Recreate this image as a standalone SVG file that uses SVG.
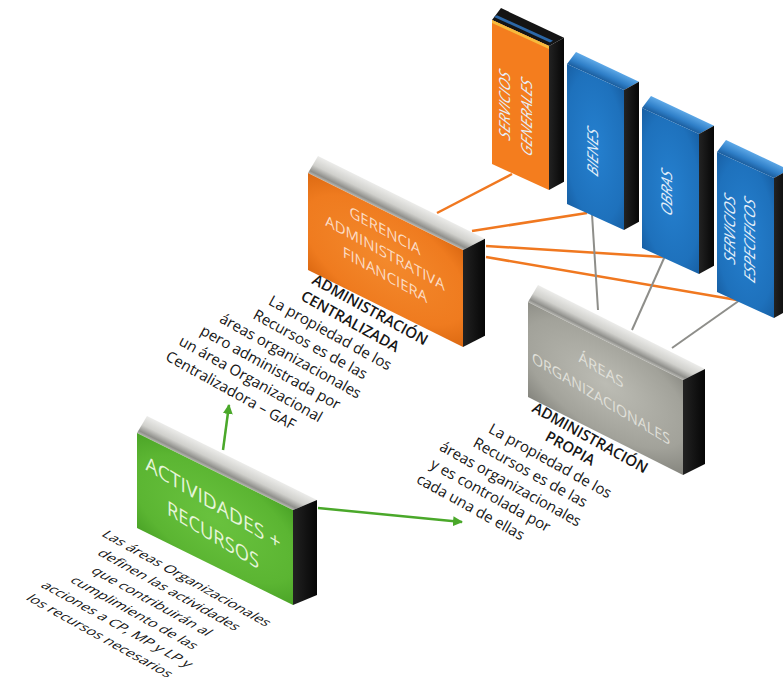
<svg xmlns="http://www.w3.org/2000/svg" width="783" height="681" viewBox="0 0 783 681">
<defs>
<style>
.lbl{font-family:"Open Sans","Liberation Sans",sans-serif;font-size:15px;fill:#161616;text-anchor:middle;font-weight:500}
.b{font-weight:600}
.bt{font-family:"Open Sans","Liberation Sans",sans-serif;text-anchor:middle}
.blt{font-size:15px;font-style:italic;fill:#e6f0fa}
.ol{stroke:#f07820;stroke-width:2.5;fill:none}
.gl{stroke:#8e8e8a;stroke-width:2;fill:none}
.ga{stroke:#4aa82a;stroke-width:2.5;fill:none;marker-end:url(#gah)}
</style>
<linearGradient id="topG" gradientUnits="userSpaceOnUse" x1="0" y1="-22" x2="0" y2="0">
<stop offset="0" stop-color="#ececea"/><stop offset="0.5" stop-color="#d0d0cc"/><stop offset="0.85" stop-color="#8f8f8b"/><stop offset="1" stop-color="#b8b8b3"/>
</linearGradient>
<linearGradient id="blueTop" gradientUnits="userSpaceOnUse" x1="0" y1="-16" x2="0" y2="0">
<stop offset="0" stop-color="#5ea9e8"/><stop offset="0.6" stop-color="#2f7fc8"/><stop offset="1" stop-color="#1b5d9d"/>
</linearGradient>
<linearGradient id="sideG" x1="0" y1="0" x2="1" y2="0">
<stop offset="0" stop-color="#222"/><stop offset="1" stop-color="#060606"/>
</linearGradient>
<radialGradient id="orF" cx="0.5" cy="0.5" r="0.75">
<stop offset="0" stop-color="#f3892c"/><stop offset="0.7" stop-color="#ef7b1f"/><stop offset="1" stop-color="#d8650f"/>
</radialGradient>
<radialGradient id="grF" cx="0.5" cy="0.5" r="0.75">
<stop offset="0" stop-color="#69c23e"/><stop offset="0.7" stop-color="#5bb532"/><stop offset="1" stop-color="#47a024"/>
</radialGradient>
<radialGradient id="gyF" cx="0.5" cy="0.45" r="0.75">
<stop offset="0" stop-color="#bcbcb4"/><stop offset="0.7" stop-color="#a2a29a"/><stop offset="1" stop-color="#84847d"/>
</radialGradient>
<radialGradient id="blF" cx="0.5" cy="0.5" r="0.75">
<stop offset="0" stop-color="#2580cf"/><stop offset="0.7" stop-color="#1e71bc"/><stop offset="1" stop-color="#165b9e"/>
</radialGradient>
<marker id="gah" viewBox="0 0 10 10" refX="9" refY="5" markerWidth="4" markerHeight="4" orient="auto" markerUnits="strokeWidth">
<path d="M0,0 L10,5 L0,10 z" fill="#4aa82a"/>
</marker>
</defs>
<rect width="783" height="681" fill="#ffffff"/>

<g id="connectors">
<line class="ol" x1="437" y1="213" x2="512" y2="174"/>
<line class="ol" x1="472" y1="231" x2="587" y2="213"/>
<line class="ol" x1="486" y1="246" x2="663" y2="257"/>
<line class="ol" x1="486" y1="257" x2="737" y2="300"/>
<line class="gl" x1="592" y1="214" x2="598" y2="310"/>
<line class="gl" x1="665" y1="256" x2="632" y2="330"/>
<line class="gl" x1="740" y1="300" x2="672" y2="348"/>
<line class="ga" x1="223" y1="450" x2="229" y2="405"/>
<line class="ga" x1="318" y1="508" x2="462" y2="522"/>
</g>

<g id="servicios-generales">
<g transform="translate(492,20) skewY(24.5)">
<polygon points="0,0 57,0 72,-15 9,-16" fill="#141414"/>
<polygon points="2,-4 58,-4 61,-7 5,-7" fill="#2c68a8"/>
<polygon points="57,0 72,-15 72,129 57,144" fill="url(#sideG)"/>
<rect width="57" height="144" fill="#f47d1e"/>
<rect width="57" height="3" fill="#f6bb3c"/>
</g>
<g transform="translate(516,111) skewY(28.8)">
<text class="bt blt" transform="rotate(-90)" x="0" y="-6">SERVICIOS</text>
<text class="bt blt" transform="rotate(-90)" x="0" y="16">GENERALES</text>
</g>
</g>

<g id="bienes">
<g transform="translate(567,64) skewY(24.5)">
<polygon points="0,0 57,0 72,-15 9,-16" fill="url(#blueTop)"/>
<polygon points="57,0 72,-15 72,125 57,140" fill="url(#sideG)"/>
<rect width="57" height="140" fill="url(#blF)"/>
</g>
<g transform="translate(594,152) skewY(28.8)">
<text class="bt blt" transform="rotate(-90)" x="0" y="4">BIENES</text>
</g>
</g>

<g id="obras">
<g transform="translate(642,108) skewY(24.5)">
<polygon points="0,0 57,0 72,-15 9,-16" fill="url(#blueTop)"/>
<polygon points="57,0 72,-15 72,125 57,140" fill="url(#sideG)"/>
<rect width="57" height="140" fill="url(#blF)"/>
</g>
<g transform="translate(668,193) skewY(28.8)">
<text class="bt blt" transform="rotate(-90)" x="0" y="4">OBRAS</text>
</g>
</g>

<g id="servicios-especificos">
<g transform="translate(717,152) skewY(24.5)">
<polygon points="0,0 57,0 72,-15 9,-16" fill="url(#blueTop)"/>
<polygon points="57,0 72,-15 72,125 57,140" fill="url(#sideG)"/>
<rect width="57" height="140" fill="url(#blF)"/>
</g>
<g transform="translate(741,235) skewY(28.8)">
<text class="bt blt" transform="rotate(-90)" x="0" y="-6">SERVICIOS</text>
<text class="bt blt" transform="rotate(-90)" x="0" y="14">ESPECIFICOS</text>
</g>
</g>

<g id="gerencia">
<g transform="translate(308,173) skewY(26.4)">
<polygon points="0,0 155,0 177,-22 10,-22" fill="url(#topG)"/>
<polygon points="155,0 177,-22 177,75 155,97" fill="url(#sideG)"/>
<rect width="155" height="97" fill="url(#orF)"/>
</g>
<g transform="translate(385,0) skewY(28.8)" class="bt" font-size="15" fill="#fcdcc4">
<text x="0" y="236">GERENCIA</text>
<text x="0" y="258">ADMINISTRATIVA</text>
<text x="0" y="280">FINANCIERA</text>
</g>
<g class="lbl">
<text class="b" transform="translate(367.6,314.4) rotate(29)">ADMINISTRACIÓN</text>
<text class="b" transform="translate(347.7,325.9) rotate(29)">CENTRALIZADA</text>
<text transform="translate(327.8,337.4) rotate(29)">La propiedad de los</text>
<text transform="translate(307.9,348.9) rotate(29)">Recursos es de las</text>
<text transform="translate(288,360.4) rotate(29)">áreas organizacionales</text>
<text transform="translate(268.1,371.9) rotate(29)">pero administrada por</text>
<text transform="translate(248.2,383.4) rotate(29)">un área Organizacional</text>
<text transform="translate(228.3,394.9) rotate(29)">Centralizadora – GAF</text>
</g>
</g>

<g id="areas">
<g transform="translate(528,302) skewY(26.7)">
<polygon points="0,0 155,0 177,-22 10,-22" fill="url(#topG)"/>
<polygon points="155,0 177,-22 177,73 155,95" fill="url(#sideG)"/>
<rect width="155" height="95" fill="url(#gyF)"/>
</g>
<g transform="translate(601,0) skewY(31)" class="bt" font-size="15" fill="#e0e0da">
<text x="0" y="375">ÁREAS</text>
<text x="0" y="404" textLength="138" lengthAdjust="spacingAndGlyphs">ORGANIZACIONALES</text>
</g>
<g class="lbl">
<text class="b" transform="translate(587.6,442.4) rotate(29)">ADMINISTRACIÓN</text>
<text class="b" transform="translate(567.7,452.9) rotate(29)">PROPIA</text>
<text transform="translate(547.8,465.4) rotate(29)">La propiedad de los</text>
<text transform="translate(527.9,476.9) rotate(29)">Recursos es de las</text>
<text transform="translate(508,488.4) rotate(29)">áreas organizacionales</text>
<text transform="translate(488.1,499.9) rotate(29)">y es controlada por</text>
<text transform="translate(468.2,511.4) rotate(29)">cada una de ellas</text>
</g>
</g>

<g id="actividades">
<g transform="translate(137,433) skewY(26.3)">
<polygon points="0,0 156,0 180,-22 10,-22" fill="url(#topG)"/>
<polygon points="156,0 180,-22 180,73 156,95" fill="url(#sideG)"/>
<rect width="156" height="95" fill="url(#grF)"/>
</g>
<g transform="translate(213,0) skewY(31)" class="bt" font-size="20" fill="#e6f5da">
<text x="0" y="510" textLength="135" lengthAdjust="spacingAndGlyphs">ACTIVIDADES +</text>
<text x="0" y="542" textLength="92" lengthAdjust="spacingAndGlyphs">RECURSOS</text>
</g>
<g class="lbl" transform="matrix(0.875,0.485,-0.756,0.5,183,581)">
<text x="0" y="0">Las áreas Organizacionales</text>
<text x="0" y="23">definen las actividades</text>
<text x="0" y="46">que contribuirán al</text>
<text x="0" y="69">cumplimiento de las</text>
<text x="0" y="92">acciones a CP, MP y LP y</text>
<text x="0" y="115">los recursos necesarios</text>
</g>
</g>
</svg>
